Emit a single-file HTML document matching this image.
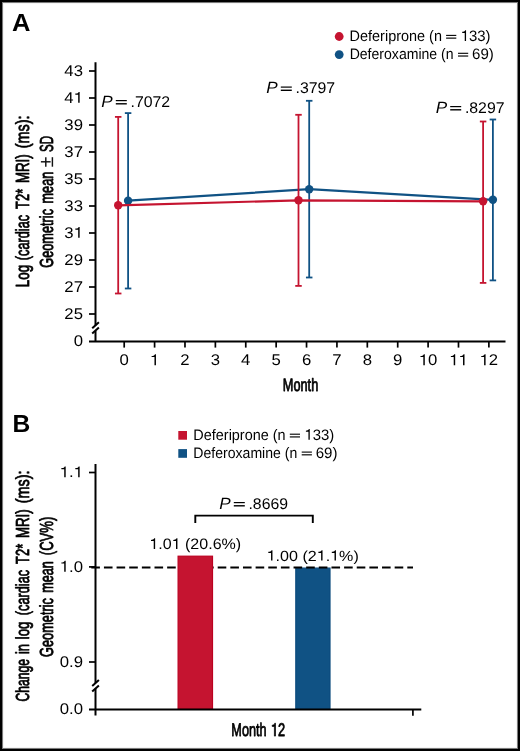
<!DOCTYPE html>
<html><head><meta charset="utf-8"><style>
html,body{margin:0;padding:0;background:#fff;}
svg{display:block;will-change:transform;text-rendering:geometricPrecision;font-family:"Liberation Sans", sans-serif;}
</style></head><body>
<svg width="520" height="751" viewBox="0 0 520 751" fill="#000">
<rect x="1" y="1" width="518" height="749" fill="#fff" stroke="#000" stroke-width="2"/>
<rect x="2.5" y="2.5" width="515" height="746" fill="none" stroke="#7a7a7a" stroke-width="1"/>
<rect x="3.5" y="3.5" width="513" height="744" fill="none" stroke="#f4f4f4" stroke-width="1"/>
<text transform="translate(12.06,30.90)" font-size="24.87" textLength="18.43" lengthAdjust="spacingAndGlyphs" font-weight="bold">A</text>
<text transform="translate(12.44,431.70)" font-size="24.58" textLength="17.76" lengthAdjust="spacingAndGlyphs" font-weight="bold">B</text>
<text transform="translate(349.61,40.90)" font-size="15.13" textLength="92.33" lengthAdjust="spacingAndGlyphs">Deferiprone (n</text>
<rect x="446.10" y="34.85" width="10.20" height="1.10"/><rect x="446.10" y="37.55" width="10.20" height="1.15"/>
<g transform="translate(460.69,40.90) scale(0.9881,1)" font-size="15.13"><path transform="translate(0.00,0) scale(0.01513,-0.01513)" d="M359 0L359 703L301 703C287 652 246 608 160 600L101 598L101 527L271 527L271 0Z"/><text x="8.41" textLength="21.86" lengthAdjust="spacingAndGlyphs">33)</text></g>
<text transform="translate(349.64,58.80)" font-size="15.13" textLength="103.97" lengthAdjust="spacingAndGlyphs">Deferoxamine (n</text>
<rect x="458.00" y="52.75" width="10.20" height="1.10"/><rect x="458.00" y="55.45" width="10.20" height="1.15"/>
<text transform="translate(472.05,58.80)" font-size="15.13" textLength="21.76" lengthAdjust="spacingAndGlyphs">69)</text>
<circle cx="339.2" cy="36.5" r="4.4" fill="#c51430"/>
<circle cx="339.2" cy="54.6" r="4.4" fill="#105284"/>
<text transform="translate(193.31,439.70)" font-size="15.13" textLength="92.33" lengthAdjust="spacingAndGlyphs">Deferiprone (n</text>
<rect x="289.80" y="433.65" width="10.20" height="1.10"/><rect x="289.80" y="436.35" width="10.20" height="1.15"/>
<g transform="translate(304.39,439.70) scale(0.9881,1)" font-size="15.13"><path transform="translate(0.00,0) scale(0.01513,-0.01513)" d="M359 0L359 703L301 703C287 652 246 608 160 600L101 598L101 527L271 527L271 0Z"/><text x="8.41" textLength="21.86" lengthAdjust="spacingAndGlyphs">33)</text></g>
<text transform="translate(193.34,457.60)" font-size="15.13" textLength="103.97" lengthAdjust="spacingAndGlyphs">Deferoxamine (n</text>
<rect x="301.70" y="451.55" width="10.20" height="1.10"/><rect x="301.70" y="454.25" width="10.20" height="1.15"/>
<text transform="translate(315.75,457.60)" font-size="15.13" textLength="21.76" lengthAdjust="spacingAndGlyphs">69)</text>
<rect x="178.3" y="431" width="8.7" height="8.7" fill="#c51430"/>
<rect x="178.3" y="449.1" width="8.7" height="8.7" fill="#105284"/>
<g stroke="#000" stroke-width="2" fill="none">
<line x1="95.5" y1="62.3" x2="95.5" y2="325.5"/>
<line x1="95.5" y1="330.8" x2="95.5" y2="341.4"/>
<line x1="92.2" y1="328.2" x2="98.9" y2="322.2"/>
<line x1="92.2" y1="333.5" x2="98.9" y2="327.5"/>
<line x1="89" y1="341.4" x2="505.5" y2="341.4"/>
</g>
<g stroke="#000" stroke-width="1.7">
<line x1="89" y1="71" x2="95.5" y2="71"/>
<line x1="89" y1="98" x2="95.5" y2="98"/>
<line x1="89" y1="125" x2="95.5" y2="125"/>
<line x1="89" y1="152" x2="95.5" y2="152"/>
<line x1="89" y1="179" x2="95.5" y2="179"/>
<line x1="89" y1="206" x2="95.5" y2="206"/>
<line x1="89" y1="233" x2="95.5" y2="233"/>
<line x1="89" y1="260" x2="95.5" y2="260"/>
<line x1="89" y1="287" x2="95.5" y2="287"/>
<line x1="89" y1="314" x2="95.5" y2="314"/>
<line x1="124.20" y1="341.4" x2="124.20" y2="347.6"/>
<line x1="154.59" y1="341.4" x2="154.59" y2="347.6"/>
<line x1="184.98" y1="341.4" x2="184.98" y2="347.6"/>
<line x1="215.37" y1="341.4" x2="215.37" y2="347.6"/>
<line x1="245.76" y1="341.4" x2="245.76" y2="347.6"/>
<line x1="276.15" y1="341.4" x2="276.15" y2="347.6"/>
<line x1="306.54" y1="341.4" x2="306.54" y2="347.6"/>
<line x1="336.93" y1="341.4" x2="336.93" y2="347.6"/>
<line x1="367.32" y1="341.4" x2="367.32" y2="347.6"/>
<line x1="397.71" y1="341.4" x2="397.71" y2="347.6"/>
<line x1="428.10" y1="341.4" x2="428.10" y2="347.6"/>
<line x1="458.49" y1="341.4" x2="458.49" y2="347.6"/>
<line x1="488.88" y1="341.4" x2="488.88" y2="347.6"/>
</g>
<text transform="translate(64.33,75.85)" font-size="15.50" textLength="18.62" lengthAdjust="spacingAndGlyphs">43</text>
<g transform="translate(64.33,102.85) scale(1.0800,1)" font-size="15.50"><text x="0.00" textLength="8.62" lengthAdjust="spacingAndGlyphs">4</text><path transform="translate(8.62,0) scale(0.01550,-0.01550)" d="M359 0L359 703L301 703C287 652 246 608 160 600L101 598L101 527L271 527L271 0Z"/></g>
<text transform="translate(64.33,129.85)" font-size="15.50" textLength="18.62" lengthAdjust="spacingAndGlyphs">39</text>
<text transform="translate(64.33,156.85)" font-size="15.50" textLength="18.62" lengthAdjust="spacingAndGlyphs">37</text>
<text transform="translate(64.33,183.85)" font-size="15.50" textLength="18.62" lengthAdjust="spacingAndGlyphs">35</text>
<text transform="translate(64.33,210.85)" font-size="15.50" textLength="18.62" lengthAdjust="spacingAndGlyphs">33</text>
<g transform="translate(64.33,237.85) scale(1.0800,1)" font-size="15.50"><text x="0.00" textLength="8.62" lengthAdjust="spacingAndGlyphs">3</text><path transform="translate(8.62,0) scale(0.01550,-0.01550)" d="M359 0L359 703L301 703C287 652 246 608 160 600L101 598L101 527L271 527L271 0Z"/></g>
<text transform="translate(64.33,264.85)" font-size="15.50" textLength="18.62" lengthAdjust="spacingAndGlyphs">29</text>
<text transform="translate(64.33,291.85)" font-size="15.50" textLength="18.62" lengthAdjust="spacingAndGlyphs">27</text>
<text transform="translate(64.33,318.85)" font-size="15.50" textLength="18.62" lengthAdjust="spacingAndGlyphs">25</text>
<text transform="translate(73.64,346.15)" font-size="15.50" textLength="9.31" lengthAdjust="spacingAndGlyphs">0</text>
<text transform="translate(119.54,365.20)" font-size="15.50" textLength="9.31" lengthAdjust="spacingAndGlyphs">0</text>
<g transform="translate(149.94,365.20) scale(1.0800,1)" font-size="15.50"><path transform="translate(0.00,0) scale(0.01550,-0.01550)" d="M359 0L359 703L301 703C287 652 246 608 160 600L101 598L101 527L271 527L271 0Z"/></g>
<text transform="translate(180.32,365.20)" font-size="15.50" textLength="9.31" lengthAdjust="spacingAndGlyphs">2</text>
<text transform="translate(210.71,365.20)" font-size="15.50" textLength="9.31" lengthAdjust="spacingAndGlyphs">3</text>
<text transform="translate(241.10,365.20)" font-size="15.50" textLength="9.31" lengthAdjust="spacingAndGlyphs">4</text>
<text transform="translate(271.49,365.20)" font-size="15.50" textLength="9.31" lengthAdjust="spacingAndGlyphs">5</text>
<text transform="translate(301.88,365.20)" font-size="15.50" textLength="9.31" lengthAdjust="spacingAndGlyphs">6</text>
<text transform="translate(332.27,365.20)" font-size="15.50" textLength="9.31" lengthAdjust="spacingAndGlyphs">7</text>
<text transform="translate(362.66,365.20)" font-size="15.50" textLength="9.31" lengthAdjust="spacingAndGlyphs">8</text>
<text transform="translate(393.05,365.20)" font-size="15.50" textLength="9.31" lengthAdjust="spacingAndGlyphs">9</text>
<g transform="translate(418.79,365.20) scale(1.0800,1)" font-size="15.50"><path transform="translate(0.00,0) scale(0.01550,-0.01550)" d="M359 0L359 703L301 703C287 652 246 608 160 600L101 598L101 527L271 527L271 0Z"/><text x="8.62" textLength="8.62" lengthAdjust="spacingAndGlyphs">0</text></g>
<g transform="translate(449.18,365.20) scale(1.0800,1)" font-size="15.50"><path transform="translate(0.00,0) scale(0.01550,-0.01550)" d="M359 0L359 703L301 703C287 652 246 608 160 600L101 598L101 527L271 527L271 0Z"/><path transform="translate(8.62,0) scale(0.01550,-0.01550)" d="M359 0L359 703L301 703C287 652 246 608 160 600L101 598L101 527L271 527L271 0Z"/></g>
<g transform="translate(479.57,365.20) scale(1.0800,1)" font-size="15.50"><path transform="translate(0.00,0) scale(0.01550,-0.01550)" d="M359 0L359 703L301 703C287 652 246 608 160 600L101 598L101 527L271 527L271 0Z"/><text x="8.62" textLength="8.62" lengthAdjust="spacingAndGlyphs">2</text></g>
<text transform="translate(282.85,391.20)" font-size="17.89" textLength="35.37" lengthAdjust="spacingAndGlyphs" stroke="#000" stroke-width="0.8" stroke-linejoin="round">Month</text>
<g stroke="#111" stroke-width="1.45"><line x1="40.9" y1="161.8" x2="50.6" y2="161.8"/><line x1="45.8" y1="157.2" x2="45.8" y2="166.7"/><line x1="52.4" y1="157.2" x2="52.4" y2="166.7"/></g>
<text transform="translate(29.40,287.21) rotate(-90)" font-size="19.05" textLength="22.36" lengthAdjust="spacingAndGlyphs" stroke="#000" stroke-width="0.8" stroke-linejoin="round">Log</text>
<text transform="translate(29.40,260.20) rotate(-90)" font-size="19.05" textLength="45.34" lengthAdjust="spacingAndGlyphs" stroke="#000" stroke-width="0.8" stroke-linejoin="round">(cardiac</text>
<text transform="translate(29.40,208.89) rotate(-90)" font-size="19.05" textLength="20.10" lengthAdjust="spacingAndGlyphs" stroke="#000" stroke-width="0.8" stroke-linejoin="round">T2*</text>
<text transform="translate(29.40,183.10) rotate(-90)" font-size="19.05" textLength="28.81" lengthAdjust="spacingAndGlyphs" stroke="#000" stroke-width="0.8" stroke-linejoin="round">MRI)</text>
<text transform="translate(29.40,148.30) rotate(-90)" font-size="19.05" textLength="32.79" lengthAdjust="spacingAndGlyphs" stroke="#000" stroke-width="0.8" stroke-linejoin="round">(ms):</text>
<text transform="translate(52.60,267.74) rotate(-90)" font-size="18.91" textLength="58.79" lengthAdjust="spacingAndGlyphs" stroke="#000" stroke-width="0.8" stroke-linejoin="round">Geometric</text>
<text transform="translate(52.60,203.45) rotate(-90)" font-size="18.91" textLength="31.66" lengthAdjust="spacingAndGlyphs" stroke="#000" stroke-width="0.8" stroke-linejoin="round">mean</text>
<text transform="translate(52.60,152.02) rotate(-90)" font-size="18.91" textLength="16.06" lengthAdjust="spacingAndGlyphs" stroke="#000" stroke-width="0.8" stroke-linejoin="round">SD</text>
<text transform="translate(101.29,106.50)" font-size="16.44" textLength="11.43" lengthAdjust="spacingAndGlyphs" font-style="italic">P</text>
<rect x="115.80" y="100.00" width="11.00" height="1.20"/><rect x="115.80" y="103.10" width="11.00" height="1.40"/>
<text transform="translate(130.48,106.50)" font-size="15.56" textLength="39.62" lengthAdjust="spacingAndGlyphs">.7072</text>
<text transform="translate(266.29,93.00)" font-size="16.44" textLength="11.43" lengthAdjust="spacingAndGlyphs" font-style="italic">P</text>
<rect x="280.80" y="86.50" width="11.00" height="1.20"/><rect x="280.80" y="89.60" width="11.00" height="1.40"/>
<text transform="translate(295.48,93.00)" font-size="15.56" textLength="39.62" lengthAdjust="spacingAndGlyphs">.3797</text>
<text transform="translate(435.69,112.50)" font-size="16.44" textLength="11.43" lengthAdjust="spacingAndGlyphs" font-style="italic">P</text>
<rect x="450.20" y="106.00" width="11.00" height="1.20"/><rect x="450.20" y="109.10" width="11.00" height="1.40"/>
<text transform="translate(464.88,112.50)" font-size="15.56" textLength="39.62" lengthAdjust="spacingAndGlyphs">.8297</text>
<g stroke="#105284" stroke-width="1.8"><line x1="128.1" y1="113.1" x2="128.1" y2="288.5"/><line x1="124.85" y1="113.1" x2="131.35" y2="113.1"/><line x1="124.85" y1="288.5" x2="131.35" y2="288.5"/></g>
<g stroke="#105284" stroke-width="1.8"><line x1="309.2" y1="100.8" x2="309.2" y2="277.5"/><line x1="305.95" y1="100.8" x2="312.45" y2="100.8"/><line x1="305.95" y1="277.5" x2="312.45" y2="277.5"/></g>
<g stroke="#105284" stroke-width="1.8"><line x1="492.9" y1="119.5" x2="492.9" y2="280.4"/><line x1="489.65" y1="119.5" x2="496.15" y2="119.5"/><line x1="489.65" y1="280.4" x2="496.15" y2="280.4"/></g>
<polyline points="128.1,200.7 309.2,189.2 492.9,199.8" fill="none" stroke="#105284" stroke-width="2.2"/>
<circle cx="128.1" cy="200.7" r="4.2" fill="#105284"/>
<circle cx="309.2" cy="189.2" r="4.2" fill="#105284"/>
<circle cx="492.9" cy="199.8" r="4.2" fill="#105284"/>
<g stroke="#c51430" stroke-width="1.8"><line x1="118.2" y1="116.9" x2="118.2" y2="293.5"/><line x1="114.95" y1="116.9" x2="121.45" y2="116.9"/><line x1="114.95" y1="293.5" x2="121.45" y2="293.5"/></g>
<g stroke="#c51430" stroke-width="1.8"><line x1="298.5" y1="114.8" x2="298.5" y2="285.9"/><line x1="295.25" y1="114.8" x2="301.75" y2="114.8"/><line x1="295.25" y1="285.9" x2="301.75" y2="285.9"/></g>
<g stroke="#c51430" stroke-width="1.8"><line x1="483.1" y1="121.5" x2="483.1" y2="282.9"/><line x1="479.85" y1="121.5" x2="486.35" y2="121.5"/><line x1="479.85" y1="282.9" x2="486.35" y2="282.9"/></g>
<polyline points="118.2,205.3 298.5,200.3 483.1,201.3" fill="none" stroke="#c51430" stroke-width="2.2"/>
<circle cx="118.2" cy="205.3" r="4.2" fill="#c51430"/>
<circle cx="298.5" cy="200.3" r="4.2" fill="#c51430"/>
<circle cx="483.1" cy="201.3" r="4.2" fill="#c51430"/>
<rect x="295.8" y="568.1" width="34.2" height="141" fill="#105284" stroke="#0c4b7e" stroke-width="1.2"/>
<line x1="91.3" y1="567.4" x2="413" y2="567.4" stroke="#000" stroke-width="2" stroke-dasharray="8.6 4.04"/>
<rect x="178.1" y="556.2" width="34.4" height="153" fill="#c51430" stroke="#bc0020" stroke-width="1.2"/>
<g stroke="#000" stroke-width="2" fill="none">
<line x1="95.5" y1="464" x2="95.5" y2="683"/>
<line x1="95.5" y1="688.4" x2="95.5" y2="715.5"/>
<line x1="92.2" y1="686.1" x2="98.9" y2="680.1"/>
<line x1="92.2" y1="691.4" x2="98.9" y2="685.4"/>
<line x1="89" y1="709.5" x2="421.3" y2="709.5"/>
<polyline points="195.3,522.9 195.3,515.6 312.8,515.6 312.8,522.9" stroke-width="1.9"/>
</g>
<g stroke="#000" stroke-width="1.7">
<line x1="89" y1="472.5" x2="95.5" y2="472.5"/>
<line x1="89" y1="566.9" x2="95.5" y2="566.9"/>
<line x1="89" y1="662" x2="95.5" y2="662"/>
<line x1="412.9" y1="709.5" x2="412.9" y2="715.8"/>
</g>
<g transform="translate(59.68,477.35) scale(1.0800,1)" font-size="15.50"><path transform="translate(0.00,0) scale(0.01550,-0.01550)" d="M359 0L359 703L301 703C287 652 246 608 160 600L101 598L101 527L271 527L271 0Z"/><text x="8.62" textLength="4.31" lengthAdjust="spacingAndGlyphs">.</text><path transform="translate(12.92,0) scale(0.01550,-0.01550)" d="M359 0L359 703L301 703C287 652 246 608 160 600L101 598L101 527L271 527L271 0Z"/></g>
<g transform="translate(59.68,571.75) scale(1.0800,1)" font-size="15.50"><path transform="translate(0.00,0) scale(0.01550,-0.01550)" d="M359 0L359 703L301 703C287 652 246 608 160 600L101 598L101 527L271 527L271 0Z"/><text x="8.62" textLength="12.93" lengthAdjust="spacingAndGlyphs">.0</text></g>
<text transform="translate(59.68,666.85)" font-size="15.50" textLength="23.27" lengthAdjust="spacingAndGlyphs">0.9</text>
<text transform="translate(59.68,714.35)" font-size="15.50" textLength="23.27" lengthAdjust="spacingAndGlyphs">0.0</text>
<text transform="translate(219.29,508.50)" font-size="16.44" textLength="11.43" lengthAdjust="spacingAndGlyphs" font-style="italic">P</text>
<rect x="233.80" y="502.00" width="11.00" height="1.20"/><rect x="233.80" y="505.10" width="11.00" height="1.40"/>
<text transform="translate(248.48,508.50)" font-size="15.56" textLength="39.53" lengthAdjust="spacingAndGlyphs">.8669</text>
<g transform="translate(149.38,548.90) scale(1.0633,1)" font-size="15.08"><path transform="translate(0.00,0) scale(0.01508,-0.01508)" d="M359 0L359 703L301 703C287 652 246 608 160 600L101 598L101 527L271 527L271 0Z"/><text x="8.38" textLength="12.58" lengthAdjust="spacingAndGlyphs">.0</text><path transform="translate(20.96,0) scale(0.01508,-0.01508)" d="M359 0L359 703L301 703C287 652 246 608 160 600L101 598L101 527L271 527L271 0Z"/><text x="33.53" textLength="52.80" lengthAdjust="spacingAndGlyphs">(20.6%)</text></g>
<g transform="translate(266.68,560.60) scale(1.0979,1)" font-size="14.65"><path transform="translate(0.00,0) scale(0.01465,-0.01465)" d="M359 0L359 703L301 703C287 652 246 608 160 600L101 598L101 527L271 527L271 0Z"/><text x="8.15" textLength="37.47" lengthAdjust="spacingAndGlyphs">.00 (2</text><path transform="translate(45.61,0) scale(0.01465,-0.01465)" d="M359 0L359 703L301 703C287 652 246 608 160 600L101 598L101 527L271 527L271 0Z"/><text x="53.76" textLength="4.07" lengthAdjust="spacingAndGlyphs">.</text><path transform="translate(57.83,0) scale(0.01465,-0.01465)" d="M359 0L359 703L301 703C287 652 246 608 160 600L101 598L101 527L271 527L271 0Z"/><text x="65.98" textLength="17.91" lengthAdjust="spacingAndGlyphs">%)</text></g>
<text transform="translate(231.36,736.10)" font-size="18.33" textLength="35.16" lengthAdjust="spacingAndGlyphs" stroke="#000" stroke-width="0.8" stroke-linejoin="round">Month</text>
<g transform="translate(270.91,736.10) scale(0.6991,1)" font-size="18.33" stroke="#000" stroke-width="0.8" stroke-linejoin="round"><path transform="translate(0.00,0) scale(0.01833,-0.01833)" d="M359 0L359 703L301 703C287 652 246 608 160 600L101 598L101 527L271 527L271 0Z" stroke-width="43.7"/><text x="10.19" textLength="10.19" lengthAdjust="spacingAndGlyphs">2</text></g>
<text transform="translate(29.40,701.51) rotate(-90)" font-size="18.92" textLength="42.43" lengthAdjust="spacingAndGlyphs" stroke="#000" stroke-width="0.8" stroke-linejoin="round">Change</text>
<text transform="translate(29.40,654.08) rotate(-90)" font-size="18.92" textLength="10.10" lengthAdjust="spacingAndGlyphs" stroke="#000" stroke-width="0.8" stroke-linejoin="round">in</text>
<text transform="translate(29.40,639.30) rotate(-90)" font-size="18.92" textLength="17.76" lengthAdjust="spacingAndGlyphs" stroke="#000" stroke-width="0.8" stroke-linejoin="round">log</text>
<text transform="translate(29.40,615.20) rotate(-90)" font-size="18.92" textLength="45.34" lengthAdjust="spacingAndGlyphs" stroke="#000" stroke-width="0.8" stroke-linejoin="round">(cardiac</text>
<text transform="translate(29.40,563.89) rotate(-90)" font-size="18.92" textLength="20.10" lengthAdjust="spacingAndGlyphs" stroke="#000" stroke-width="0.8" stroke-linejoin="round">T2*</text>
<text transform="translate(29.40,538.10) rotate(-90)" font-size="18.92" textLength="28.81" lengthAdjust="spacingAndGlyphs" stroke="#000" stroke-width="0.8" stroke-linejoin="round">MRI)</text>
<text transform="translate(29.40,503.30) rotate(-90)" font-size="18.92" textLength="32.79" lengthAdjust="spacingAndGlyphs" stroke="#000" stroke-width="0.8" stroke-linejoin="round">(ms):</text>
<text transform="translate(52.60,656.94) rotate(-90)" font-size="18.92" textLength="58.89" lengthAdjust="spacingAndGlyphs" stroke="#000" stroke-width="0.8" stroke-linejoin="round">Geometric</text>
<text transform="translate(52.60,592.85) rotate(-90)" font-size="18.92" textLength="31.66" lengthAdjust="spacingAndGlyphs" stroke="#000" stroke-width="0.8" stroke-linejoin="round">mean</text>
<text transform="translate(52.60,555.22) rotate(-90)" font-size="18.92" textLength="38.49" lengthAdjust="spacingAndGlyphs" stroke="#000" stroke-width="0.8" stroke-linejoin="round">(CV%)</text>
</svg>
</body></html>
